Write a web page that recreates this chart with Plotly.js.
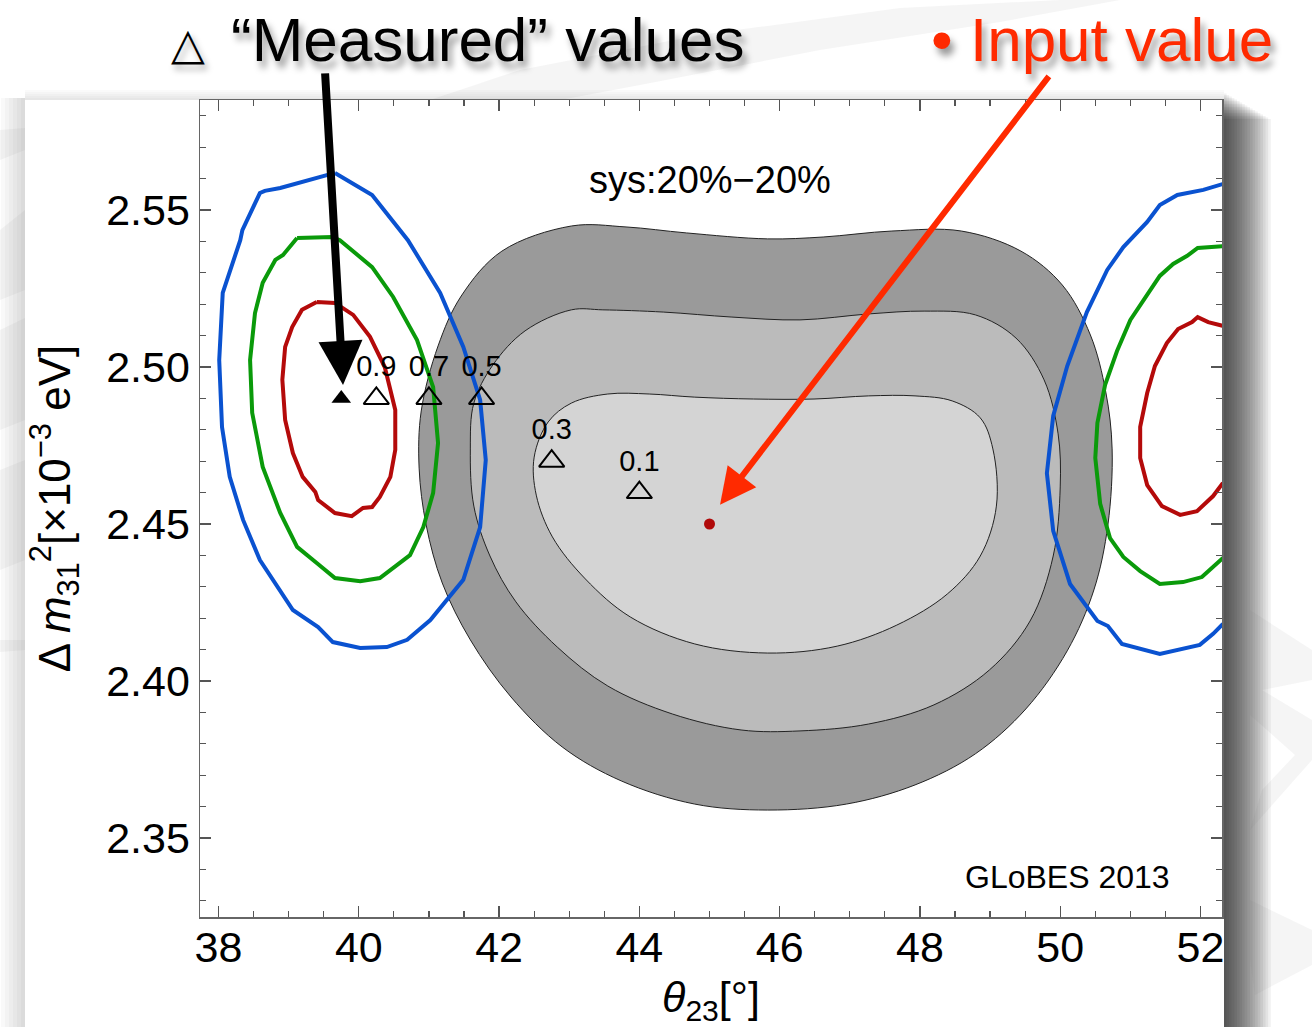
<!DOCTYPE html>
<html>
<head>
<meta charset="utf-8">
<script src="https://cdn.plot.ly/plotly-3.0.1.min.js"></script>
<style>
  html, body { margin: 0; padding: 0; background: #ffffff; }
  #chart { width: 1312px; height: 1027px; }
</style>
</head>
<body>
<div id="chart"></div>
<script>
// Allowed regions for the input point (theta23 = 45 deg), nested levels
const outerX = [43.03, 42.04, 41.46, 41.13, 40.89, 40.86, 40.96, 41.19, 41.59, 42.17, 42.90, 43.74, 44.79, 45.83, 46.95, 47.93, 48.79, 49.51, 50.10, 50.48, 50.68, 50.74, 50.65, 50.43, 50.03, 49.44, 48.59, 47.60, 46.62, 45.83, 44.67, 43.81, 43.03];
const outerY = [2.5449, 2.5369, 2.5226, 2.5067, 2.4860, 2.4678, 2.4497, 2.4312, 2.4131, 2.3949, 2.3790, 2.3682, 2.3608, 2.3589, 2.3608, 2.3669, 2.3768, 2.3911, 2.4096, 2.4290, 2.4497, 2.4739, 2.4920, 2.5102, 2.5261, 2.5369, 2.5433, 2.5433, 2.5414, 2.5408, 2.5427, 2.5446, 2.5449];

const midX = [43.03, 42.37, 41.91, 41.64, 41.59, 41.64, 41.87, 42.24, 42.83, 43.55, 44.47, 45.45, 46.29, 47.27, 48.20, 48.99, 49.57, 49.90, 50.00, 49.97, 49.77, 49.37, 48.79, 48.06, 47.27, 46.29, 45.32, 44.34, 43.48, 43.03];
const midY = [2.5182, 2.5115, 2.5006, 2.4885, 2.4739, 2.4557, 2.4398, 2.4252, 2.4108, 2.3984, 2.3895, 2.3844, 2.3841, 2.3863, 2.3924, 2.4035, 2.4191, 2.4398, 2.4618, 2.4787, 2.4959, 2.5092, 2.5166, 2.5178, 2.5169, 2.5150, 2.5159, 2.5175, 2.5182, 2.5182];

const innerX = [43.55, 43.03, 42.70, 42.50, 42.53, 42.76, 43.23, 43.87, 44.79, 45.83, 46.82, 47.67, 48.39, 48.86, 49.09, 49.04, 48.86, 48.46, 47.93, 47.27, 46.49, 45.63, 44.79, 44.14, 43.55];
const innerY = [2.4914, 2.4885, 2.4825, 2.4713, 2.4592, 2.4459, 2.4325, 2.4204, 2.4118, 2.4089, 2.4111, 2.4178, 2.4277, 2.4398, 2.4557, 2.4739, 2.4838, 2.4892, 2.4908, 2.4908, 2.4898, 2.4898, 2.4904, 2.4914, 2.4914];

// Octant-degenerate regions around theta23 ~ 39.7 deg
const blueLX = [39.66, 40.19, 40.70, 41.16, 41.49, 41.73, 41.81, 41.73, 41.49, 41.02, 40.69, 40.40, 40.02, 39.63, 39.42, 39.06, 38.59, 38.35, 38.16, 38.05, 38.01, 38.06, 38.31, 38.34, 38.59, 38.66, 38.88, 39.30, 39.66];
const blueLY = [2.5618, 2.5548, 2.5404, 2.5236, 2.5064, 2.4895, 2.4704, 2.4490, 2.4322, 2.4194, 2.4131, 2.4108, 2.4105, 2.4124, 2.4172, 2.4226, 2.4385, 2.4513, 2.4650, 2.4809, 2.5022, 2.5236, 2.5404, 2.5436, 2.5554, 2.5561, 2.5570, 2.5596, 2.5618];

const greenLX = [39.12, 39.62, 39.73, 40.19, 40.49, 40.83, 41.06, 41.13, 41.06, 40.92, 40.73, 40.30, 40.02, 39.66, 39.40, 39.12, 38.88, 38.63, 38.48, 38.45, 38.52, 38.63, 38.81, 38.92, 39.12];
const greenLY = [2.5411, 2.5414, 2.5404, 2.5318, 2.5223, 2.5086, 2.4936, 2.4758, 2.4599, 2.4490, 2.4401, 2.4328, 2.4318, 2.4328, 2.4376, 2.4427, 2.4535, 2.4682, 2.4854, 2.5022, 2.5172, 2.5268, 2.5341, 2.5357, 2.5411];

const redLX = [39.40, 39.66, 39.92, 40.16, 40.37, 40.52, 40.52, 40.45, 40.30, 40.19, 40.06, 39.90, 39.66, 39.42, 39.38, 39.20, 39.06, 38.95, 38.91, 38.95, 39.05, 39.19, 39.40];
const redLY = [2.5207, 2.5204, 2.5166, 2.5096, 2.5000, 2.4863, 2.4736, 2.4650, 2.4586, 2.4554, 2.4551, 2.4525, 2.4535, 2.4576, 2.4602, 2.4650, 2.4726, 2.4831, 2.4959, 2.5064, 2.5127, 2.5182, 2.5207];

// Mirror regions around theta23 ~ 51.5 deg (open at the right edge)
const blueRX = [52.32, 52.04, 51.67, 51.42, 51.24, 50.90, 50.67, 50.38, 50.10, 49.90, 49.81, 49.90, 50.14, 50.53, 50.68, 50.88, 51.42, 51.99, 52.18, 52.32];
const blueRY = [2.5583, 2.5564, 2.5548, 2.5516, 2.5462, 2.5382, 2.5309, 2.5175, 2.5003, 2.4844, 2.4662, 2.4478, 2.4309, 2.4191, 2.4175, 2.4118, 2.4086, 2.4115, 2.4150, 2.4182];

const greenRX = [52.32, 51.96, 51.81, 51.61, 51.42, 51.24, 51.00, 50.81, 50.64, 50.53, 50.50, 50.57, 50.71, 50.90, 51.14, 51.42, 51.75, 52.02, 52.32];
const greenRY = [2.5385, 2.5379, 2.5354, 2.5328, 2.5290, 2.5229, 2.5150, 2.5051, 2.4943, 2.4822, 2.4710, 2.4564, 2.4455, 2.4395, 2.4350, 2.4309, 2.4315, 2.4331, 2.4392];

const redRX = [52.32, 52.11, 51.96, 51.88, 51.68, 51.52, 51.35, 51.24, 51.14, 51.14, 51.24, 51.45, 51.71, 51.95, 52.18, 52.32];
const redRY = [2.5131, 2.5143, 2.5159, 2.5143, 2.5121, 2.5076, 2.5003, 2.4917, 2.4809, 2.4710, 2.4624, 2.4557, 2.4529, 2.4541, 2.4589, 2.4631];

// Best-fit ("measured") points for different true-value assumptions
const measuredX = [40.25, 41.0, 41.75, 42.75, 44.0];
const measuredY = [2.49, 2.49, 2.49, 2.47, 2.46];
const measuredLabels = ['0.9', '0.7', '0.5', '0.3', '0.1'];
const pickedX = [39.75];
const pickedY = [2.49];

// Input (true) value
const inputX = [45.0];
const inputY = [2.45];

const xTicks = [38, 40, 42, 44, 46, 48, 50, 52];
const yTicks = [2.35, 2.40, 2.45, 2.50, 2.55];

const FONT = 'Liberation Sans, Arial, Helvetica, sans-serif';

const traces = [];
function region(xs, ys, fillColor) {
  traces.push({
    x: xs, y: ys, type: 'scatter', mode: 'lines', fill: 'toself',
    fillcolor: fillColor,
    line: { color: '#222222', width: 1, shape: 'spline', smoothing: 1 },
    hoverinfo: 'skip', showlegend: false
  });
}
region(outerX, outerY, '#9a9a9a');
region(midX, midY, '#bbbbbb');
region(innerX, innerY, '#d4d4d4');

function contour(xs, ys, color) {
  traces.push({
    x: xs, y: ys, type: 'scatter', mode: 'lines',
    line: { color: color, width: 4 },
    hoverinfo: 'skip', showlegend: false
  });
}
const BLUE = '#0a52d0', GREEN = '#0a9a0a', RED = '#b40a0a';
contour(blueLX, blueLY, BLUE);
contour(greenLX, greenLY, GREEN);
contour(redLX, redLY, RED);
contour(blueRX, blueRY, BLUE);
contour(greenRX, greenRY, GREEN);
contour(redRX, redRY, RED);

traces.push({
  x: measuredX, y: measuredY, type: 'scatter', mode: 'markers+text',
  text: measuredLabels, textposition: 'top center',
  textfont: { family: FONT, size: 29, color: '#000000' },
  marker: { symbol: 'triangle-up-open', size: 22, color: '#000000', line: { width: 2, color: '#000000' } },
  cliponaxis: false, hoverinfo: 'skip', showlegend: false
});
traces.push({
  x: pickedX, y: pickedY, type: 'scatter', mode: 'markers',
  marker: { symbol: 'triangle-up', size: 17, color: '#000000' },
  hoverinfo: 'skip', showlegend: false
});
traces.push({
  x: inputX, y: inputY, type: 'scatter', mode: 'markers',
  marker: { symbol: 'circle', size: 11, color: '#b00a0a' },
  hoverinfo: 'skip', showlegend: false
});

// Page decoration: soft drop shadow to the right of the white panel
const shapes = [];
const pxX = px => (px - 200) / 1022;
const pxY = py => (917 - py) / 817;
for (let i = 1; i <= 18; i++) {
  shapes.push({
    type: 'rect', xref: 'paper', yref: 'paper', layer: 'below',
    x0: pxX(1224), x1: pxX(1224 + i * 2.6), y0: pxY(1030), y1: pxY(92 + i * 1.5),
    fillcolor: 'rgba(0,0,0,0.055)', line: { width: 0 }
  });
}
// faint shadow left of the panel
for (let i = 1; i <= 6; i++) {
  shapes.push({
    type: 'rect', xref: 'paper', yref: 'paper', layer: 'below',
    x0: pxX(25 - i * 4), x1: pxX(25), y0: pxY(1030), y1: pxY(98),
    fillcolor: 'rgba(0,0,0,0.022)', line: { width: 0 }
  });
}
// faint shadow along the panel top
for (let i = 1; i <= 5; i++) {
  shapes.push({
    type: 'rect', xref: 'paper', yref: 'paper', layer: 'below',
    x0: pxX(25), x1: pxX(1224), y0: pxY(100), y1: pxY(100 - i * 2),
    fillcolor: 'rgba(0,0,0,0.018)', line: { width: 0 }
  });
}
// light brush strokes in the page background
const strokes = [
  'M 430 100 L 520 70 L 700 35 L 900 8 L 1060 0 L 1120 0 L 1000 22 L 820 50 L 640 85 L 560 100 Z',
  'M 0 130 L 25 128 L 25 150 L 0 160 Z',
  'M 0 230 L 25 210 L 25 290 L 0 300 Z',
  'M 0 330 L 25 318 L 25 420 L 0 430 Z',
  'M 0 470 L 25 460 L 25 560 L 0 570 Z',
  'M 0 640 L 25 640 L 25 650 L 0 652 Z',
  'M 1250 610 L 1312 650 L 1312 680 L 1262 690 L 1312 720 L 1312 760 L 1250 830 L 1262 790 L 1295 755 L 1250 715 Z',
  'M 1250 900 L 1312 930 L 1312 965 L 1255 995 L 1250 960 Z'
];
strokes.forEach(p => {
  shapes.push({
    type: 'path', xref: 'paper', yref: 'paper', layer: 'below',
    path: p.replace(/(\d+(?:\.\d+)?) (\d+(?:\.\d+)?)/g, (m, a, b) => pxX(+a).toFixed(5) + ' ' + pxY(+b).toFixed(5)),
    fillcolor: 'rgba(120,120,120,0.07)', line: { width: 0 }
  });
});

const annotations = [
  { xref: 'x', yref: 'y', x: 45.0, y: 2.5596, text: 'sys:20%\u221220%', showarrow: false,
    font: { family: FONT, size: 38, color: '#000000' } },
  { xref: 'x', yref: 'y', x: 50.11, y: 2.3376, text: 'GLoBES 2013', showarrow: false,
    font: { family: FONT, size: 32, color: '#000000' } },
  // arrows pointing to the marked points
  { xref: 'x', yref: 'y', x: 39.775, y: 2.4943, ax: -18, ay: -313, text: '', showarrow: true,
    arrowhead: 2, arrowsize: 1.1, arrowwidth: 8, arrowcolor: '#000000', standoff: 0 },
  { xref: 'x', yref: 'y', x: 45.15, y: 2.4561, ax: 330, ay: -430, text: '', showarrow: true,
    arrowhead: 2, arrowsize: 1.2, arrowwidth: 6, arrowcolor: '#ff2a00', standoff: 0 },
  // headline labels
  { xref: 'paper', yref: 'paper', x: pxX(188), y: pxY(44), xanchor: 'center', yanchor: 'middle',
    text: '\u25B3', showarrow: false,
    font: { family: 'DejaVu Sans, sans-serif', size: 44, color: '#000000',
            shadow: '3px 5px 6px rgba(0,0,0,0.35)' } },
  { xref: 'paper', yref: 'paper', x: pxX(487), y: pxY(40), xanchor: 'center', yanchor: 'middle',
    text: '\u201CMeasured\u201D values', showarrow: false,
    font: { family: FONT, size: 62, color: '#000000',
            shadow: '4px 7px 7px rgba(0,0,0,0.4)' } },
  { xref: 'paper', yref: 'paper', x: pxX(1102), y: pxY(40), xanchor: 'center', yanchor: 'middle',
    text: '\u2022 Input value', showarrow: false,
    font: { family: FONT, size: 62, color: '#ff2a00',
            shadow: '4px 7px 7px rgba(0,0,0,0.4)' } }
];

const axisCommon = {
  showgrid: false, zeroline: false,
  showline: true, linecolor: '#666666', linewidth: 1.5, mirror: 'ticks',
  ticks: 'inside', ticklen: 11, tickwidth: 1.2, tickcolor: '#555555',
  tickfont: { family: FONT, size: 43, color: '#000000' }
};

const layout = {
  width: 1312, height: 1027,
  margin: { l: 200, r: 90, t: 100, b: 110 },
  paper_bgcolor: '#ffffff', plot_bgcolor: '#ffffff',
  showlegend: false,
  xaxis: Object.assign({}, axisCommon, {
    range: [37.736, 52.3065],
    tickmode: 'array', tickvals: xTicks, ticktext: xTicks.map(String),
    ticklabelstandoff: -8,
    minor: { dtick: 0.5, tick0: 38, ticks: 'inside', ticklen: 6, tickcolor: '#555555', tickwidth: 1.2 },
    title: { text: '<i>\u03B8</i><sub>23</sub>[\u00B0]', font: { family: FONT, size: 43, color: '#000000' }, standoff: 14 }
  }),
  yaxis: Object.assign({}, axisCommon, {
    range: [2.32484, 2.58503],
    tickmode: 'array', tickvals: yTicks, ticktext: yTicks.map(v => v.toFixed(2)),
    minor: { dtick: 0.01, tick0: 2.35, ticks: 'inside', ticklen: 6, tickcolor: '#555555', tickwidth: 1.2 },
    title: { text: '\u0394 <i>m</i><sub>31</sub><sup>2</sup>[\u00D710<sup>\u22123</sup> eV]', font: { family: FONT, size: 44, color: '#000000' }, standoff: 22 }
  }),
  shapes: shapes,
  annotations: annotations
};

Plotly.newPlot('chart', traces, layout, { displayModeBar: false, staticPlot: true });
</script>
</body>
</html>
